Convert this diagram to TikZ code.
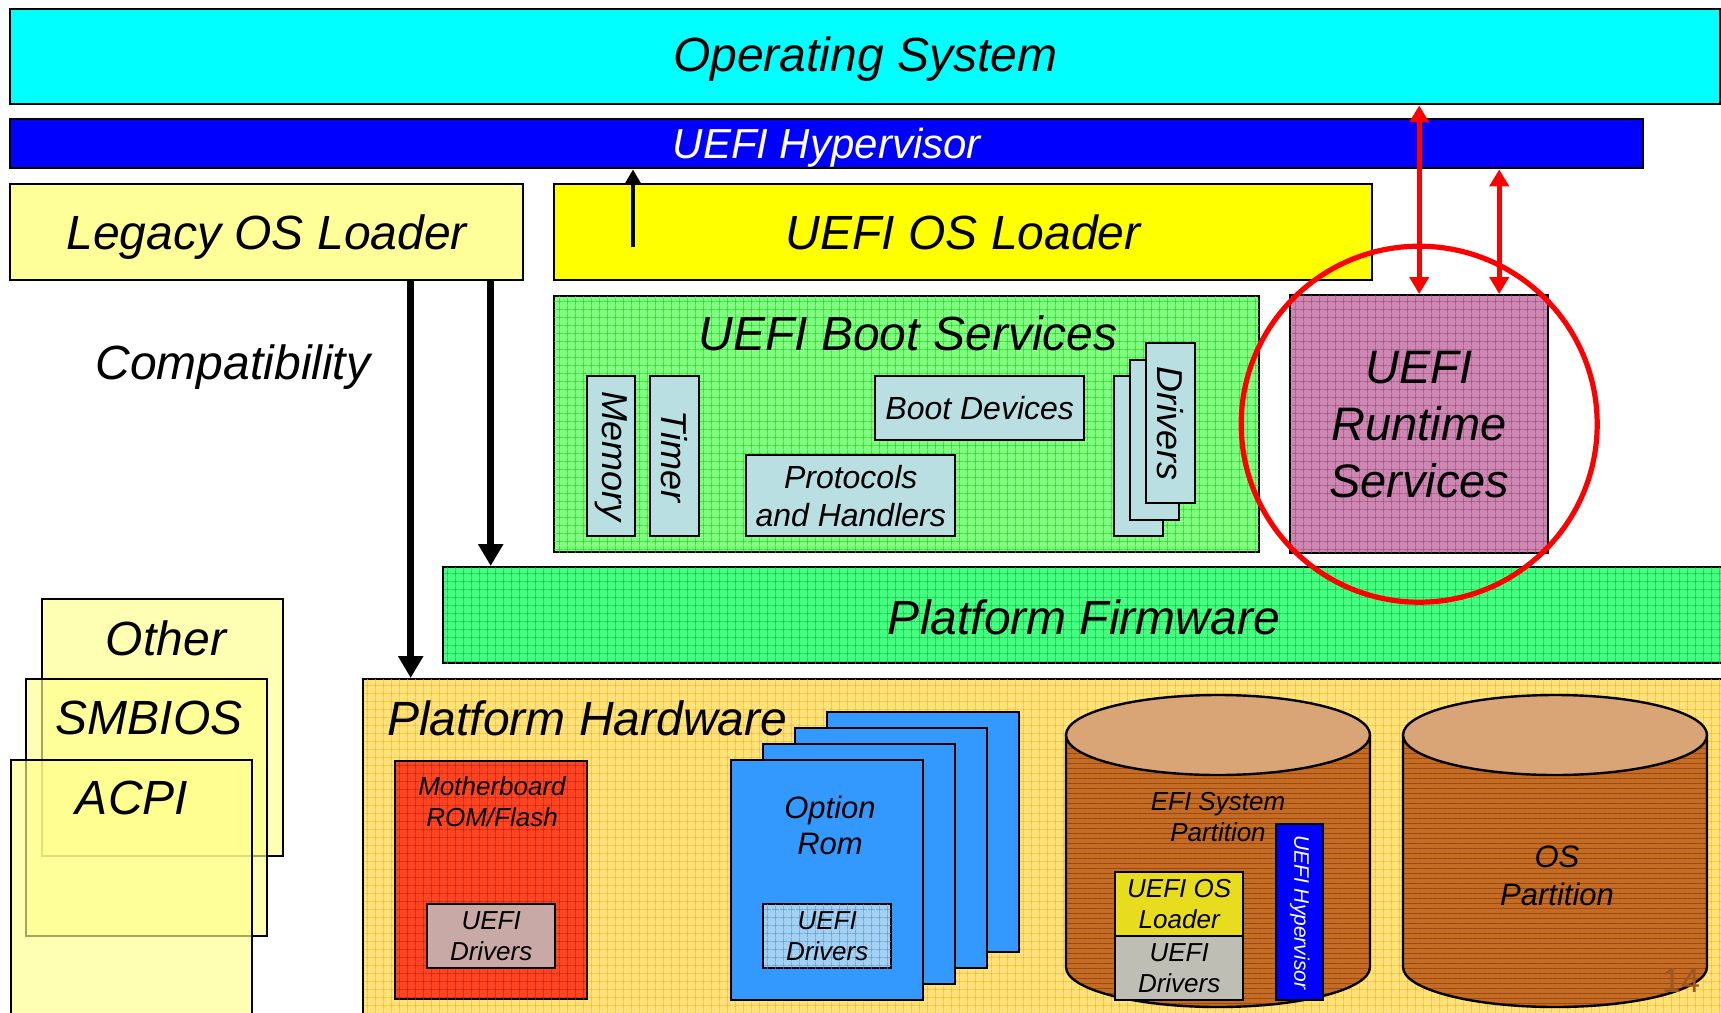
\documentclass[tikz,border=0pt]{standalone}
\usepackage{fontspec}
\setmainfont{Liberation Sans}
\usepackage{tikz}
\usetikzlibrary{arrows.meta, patterns.meta}
\usepackage{xcolor}
\definecolor{oscolor}{HTML}{00FFFF}
\definecolor{hypcolor}{HTML}{0000FF}
\definecolor{legacycolor}{HTML}{FFFF99}
\definecolor{loadercolor}{HTML}{FFFF00}
\definecolor{bootcolor}{HTML}{80FF80}
\definecolor{bootgrid}{HTML}{22CC22}
\definecolor{fwcolor}{HTML}{44FF80}
\definecolor{fwgrid}{HTML}{18B848}
\definecolor{rtcolor}{HTML}{CC88B2}
\definecolor{rtgrid}{HTML}{A04C80}
\definecolor{svccolor}{HTML}{BADFE2}
\definecolor{hwcolor}{HTML}{FFE27C}
\definecolor{hwgrid}{HTML}{F2B820}
\definecolor{cardcolor}{HTML}{FFFF8C}
\definecolor{romcolor}{HTML}{FF4422}
\definecolor{romgrid}{HTML}{C02010}
\definecolor{romdrv}{HTML}{C9A9A6}
\definecolor{optcolor}{HTML}{3399FF}
\definecolor{optdrv}{HTML}{A4D0F2}
\definecolor{optgrid}{HTML}{5A9AD0}
\definecolor{diskbody}{HTML}{C46C24}
\definecolor{disklines}{HTML}{9A4810}
\definecolor{disktop}{HTML}{D9A576}
\definecolor{espload}{HTML}{E8DC1E}
\definecolor{espdrv}{HTML}{BEBEB4}

\begin{document}
\begin{tikzpicture}[
    x=0.5pt, y=-0.5pt,
    box/.style={draw=black, line width=1.2pt, anchor=north west, inner sep=0pt, align=center},
    wh/.style 2 args={minimum width=#1*0.5pt, minimum height=#2*0.5pt},
    gridfill/.style={postaction={pattern={Hatch[angle=0,distance=4pt,line width=0.3pt]}, pattern color=#1}},
    linefill/.style={postaction={pattern={Lines[angle=0,distance=2.5pt,line width=0.4pt]}, pattern color=#1}},
    bigtxt/.style={font=\fontsize{24}{29}\selectfont\itshape},
    midtxt/.style={font=\fontsize{16}{19}\selectfont\itshape, align=center},
    smalltxt/.style={font=\fontsize{13}{15.5}\selectfont\itshape, align=center},
    rottxt/.style={font=\fontsize{18}{21}\selectfont\itshape, rotate=-90},
    bigarrow/.style={-{Triangle[length=11pt,width=12pt]}, line width=3.6pt},
    uparrow/.style={-{Triangle[length=7pt,width=7.5pt]}, line width=2.2pt},
    redarrow/.style={{Triangle[length=8.5pt,width=9.5pt]}-{Triangle[length=8.5pt,width=9.5pt]}, line width=2.5pt, draw=red}
]
\useasboundingbox (0,0) rectangle (1721,1013);
\clip (0,0) rectangle (1721,1013);

	% software layers
	\node[box, fill=oscolor, wh={1710}{95}, bigtxt, text depth=2.5pt] (os) at (9,8) {Operating System};
	\node[box, fill=hypcolor, wh={1633}{49}, font=\fontsize{21}{25}\selectfont\itshape, text depth=0pt, text=white] (hyp) at (9,118) {UEFI Hypervisor};
	\node[box, fill=legacycolor, wh={513}{96}, bigtxt, text depth=0pt] (legacy) at (9,183) {Legacy OS Loader};
	\node[box, fill=loadercolor, wh={818}{96}, bigtxt] (loader) at (553,183) {UEFI OS Loader};

	% boot services
	\node[box, fill=bootcolor, gridfill=bootgrid, wh={705}{256}] (bs) at (553,295) {};
	\node[bigtxt] (bstitle) at (908,333) {UEFI Boot Services};
	\node[box, fill=svccolor, wh={48}{160}] (mem) at (586,375) {};
	\node[rottxt] (memtxt) at (mem) {Memory};
	\node[box, fill=svccolor, wh={49}{160}] (tmr) at (649,375) {};
	\node[rottxt] (tmrtxt) at (tmr) {Timer};
	\node[box, fill=svccolor, wh={209}{64}, midtxt] (bdev) at (874,375) {Boot Devices};
	\node[box, fill=svccolor, wh={209}{81}, midtxt] (proto) at (745,454) {Protocols\\and Handlers};
	\foreach \i in {0,1,2}
		\node[box, fill=svccolor, wh={49}{160}] (drv\i) at (1113+16*\i,375-16.5*\i) {};
	\node[rottxt] (drvtxt) at (drv2) {Drivers};

	\node[box, fill=rtcolor, gridfill=rtgrid, wh={258}{258}, font=\fontsize{23.5}{28.5}\selectfont\itshape] (rt) at (1289,294) {UEFI\\Runtime\\Services};

	% firmware and hardware
	\node[box, fill=fwcolor, gridfill=fwgrid, wh={1290}{96}] (pfw) at (442,566) {};
	\node[bigtxt] (pfwtxt) at (1084,617) {Platform Firmware};
	\node[box, fill=hwcolor, gridfill=hwgrid, wh={1370}{360}] (phw) at (362,678) {};
	\node[bigtxt, anchor=west] (phwtxt) at (380,718) {Platform Hardware};

	\node[box, fill=romcolor, gridfill=romgrid, wh={192}{238}] (mb) at (394,760) {};
	\node[smalltxt] (mbtxt) at (492,802) {Motherboard\\ROM/Flash};
	\node[box, fill=romdrv, wh={128}{64}, smalltxt] (mbdrv) at (426,903) {UEFI\\Drivers};

	\foreach \i in {3,2,1,0}
		\node[box, fill=optcolor, wh={192}{240}] (opt\i) at (730+32*\i,759-16*\i) {};
	\node[font=\fontsize{15.5}{18}\selectfont\itshape, align=center] (opttxt) at (830,825) {Option\\Rom};
	\node[box, fill=optdrv, gridfill=optgrid, wh={128}{64}, smalltxt] (optdrv) at (762,903) {UEFI\\Drivers};

	% disks
	\foreach \cx in {1218,1555} {
		\path[fill=diskbody, linefill=disklines] (\cx-152,735) -- (\cx-152,967) arc[start angle=180, end angle=0, x radius=152, y radius=40] -- (\cx+152,735) -- cycle;
		\draw[line width=1.2pt] (\cx-152,735) -- (\cx-152,967) arc[start angle=180, end angle=0, x radius=152, y radius=40] -- (\cx+152,735);
		\filldraw[fill=disktop, line width=1.2pt] (\cx,735) ellipse [x radius=152, y radius=40];
	}
	\node[smalltxt] (esptxt) at (1218,817) {EFI System\\Partition};
	\node[box, fill=hypcolor, wh={47}{176}] (esphyp) at (1275,823) {};
	\node[rotate=-90, text=white, font=\fontsize{10.5}{12}\selectfont\itshape] (esphyptxt) at (esphyp) {UEFI Hypervisor};
	\node[box, fill=espload, wh={128}{64}, smalltxt] (esploader) at (1114,871) {UEFI OS\\Loader};
	\node[box, fill=espdrv, wh={128}{64}, smalltxt] (espdrv) at (1114,935) {UEFI\\Drivers};
	\node[font=\fontsize{15.5}{19}\selectfont\itshape, align=center] (osptxt) at (1557,876) {OS\\Partition};
	\node[font=\fontsize{17}{20}\selectfont, text=diskbody!80!black] (pagenum) at (1681,981) {14};

	% tables
	\foreach \nm/\cx/\cy in {other/41/598, smbios/25/678, acpi/10/759}
		\node[box, fill=cardcolor, fill opacity=0.65, wh={241}{257}] (\nm) at (\cx,\cy) {};
	\node[bigtxt] (othertxt) at (166,638) {Other};
	\node[bigtxt] (smbiostxt) at (149,718) {SMBIOS};
	\node[bigtxt] (acpitxt) at (132,798) {ACPI};
	\node[bigtxt] (compat) at (233,367) {Compatibility};

	\node[circle, draw=red, line width=2.6pt, minimum size=178pt, inner sep=0pt] (ring) at (rt.center) {};

	% arrows
	\coordinate (l1) at ([xshift=72pt]legacy.south);
	\coordinate (l2) at ([xshift=112pt]legacy.south);
	\draw[bigarrow] (l1) -- (l1 |- phw.north);
	\draw[bigarrow] (l2) -- (l2 |- pfw.north);
	\coordinate (up) at (633,247);
	\draw[uparrow] (up) -- (up |- hyp.south);
	\draw[redarrow] (rt.north) -- (rt.north |- os.south);
	\coordinate (rt2) at ([xshift=40pt]rt.north);
	\draw[redarrow] (rt2) -- (rt2 |- hyp.south);
\end{tikzpicture}
\end{document}
